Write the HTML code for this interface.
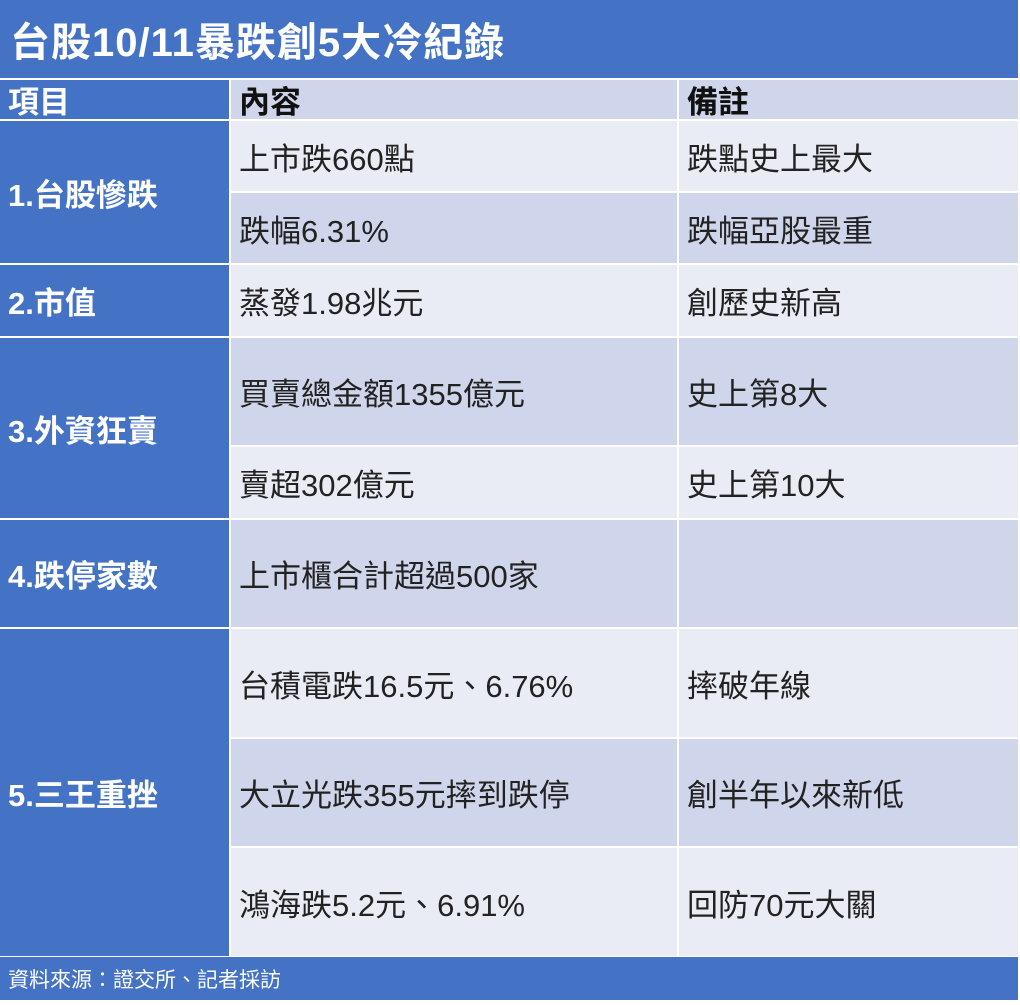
<!DOCTYPE html><html><head><meta charset="utf-8"><style>
body{margin:0;width:1020px;height:1005px;background:#fff;font-family:"Liberation Sans","Noto Sans CJK TC",sans-serif;position:relative;overflow:hidden}
div{position:absolute;box-sizing:border-box}
.b{background:#4472c4;color:#fff}
.t{display:flex;align-items:center;font-size:31px;color:#222;padding-left:8px;white-space:nowrap}
.L{background:#e9ebf5}.D{background:#cfd5ea}
.h{font-weight:bold;color:#111}
.c{color:#fff;font-weight:bold;background:#4472c4}
</style></head><body>
<div class="b" style="left:0;top:0;width:1018px;height:78px;font-size:40px;font-weight:bold;display:flex;align-items:center;padding-left:10px;letter-spacing:1px">台股10/11暴跌創5大冷紀錄</div>
<div class="t c" style="left:0;top:80px;width:229px;height:39px;padding-left:8px">項目</div>
<div class="t D h" style="left:231px;top:80px;width:446px;height:39px">內容</div>
<div class="t D h" style="left:679px;top:80px;width:339px;height:39px">備註</div>

<div class="t c" style="left:0;top:121px;width:229px;height:142px;padding-left:8px">1.台股慘跌</div>
<div class="t c" style="left:0;top:265px;width:229px;height:71px;padding-left:8px">2.市值</div>
<div class="t c" style="left:0;top:338px;width:229px;height:180px;padding-left:8px">3.外資狂賣</div>
<div class="t c" style="left:0;top:520px;width:229px;height:107px;padding-left:8px">4.跌停家數</div>
<div class="t c" style="left:0;top:629px;width:229px;height:327px;padding-left:8px">5.三王重挫</div>

<div class="t L" style="left:231px;top:121px;width:446px;height:70px">上市跌660點</div>
<div class="t L" style="left:679px;top:121px;width:339px;height:70px">跌點史上最大</div>
<div class="t D" style="left:231px;top:193px;width:446px;height:70px">跌幅6.31%</div>
<div class="t D" style="left:679px;top:193px;width:339px;height:70px">跌幅亞股最重</div>
<div class="t L" style="left:231px;top:265px;width:446px;height:71px">蒸發1.98兆元</div>
<div class="t L" style="left:679px;top:265px;width:339px;height:71px">創歷史新高</div>
<div class="t D" style="left:231px;top:338px;width:446px;height:107px">買賣總金額1355億元</div>
<div class="t D" style="left:679px;top:338px;width:339px;height:107px">史上第8大</div>
<div class="t L" style="left:231px;top:447px;width:446px;height:71px">賣超302億元</div>
<div class="t L" style="left:679px;top:447px;width:339px;height:71px">史上第10大</div>
<div class="t D" style="left:231px;top:520px;width:446px;height:107px">上市櫃合計超過500家</div>
<div class="t D" style="left:679px;top:520px;width:339px;height:107px"></div>
<div class="t L" style="left:231px;top:629px;width:446px;height:108px">台積電跌16.5元、6.76%</div>
<div class="t L" style="left:679px;top:629px;width:339px;height:108px">摔破年線</div>
<div class="t D" style="left:231px;top:739px;width:446px;height:107px">大立光跌355元摔到跌停</div>
<div class="t D" style="left:679px;top:739px;width:339px;height:107px">創半年以來新低</div>
<div class="t L" style="left:231px;top:848px;width:446px;height:108px">鴻海跌5.2元、6.91%</div>
<div class="t L" style="left:679px;top:848px;width:339px;height:108px">回防70元大關</div>

<div class="b" style="left:0;top:957px;width:1018px;height:43px;font-size:21px;display:flex;align-items:center;padding-left:8px">資料來源：證交所、記者採訪</div>
</body></html>
